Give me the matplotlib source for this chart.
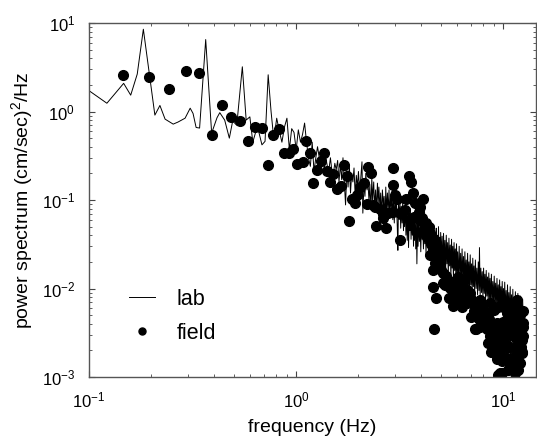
import matplotlib
matplotlib.use("Agg")
import matplotlib.pyplot as plt

# lab spectrum, low-frequency part
lab_freq_low = [
    0.100, 0.122, 0.147, 0.159, 0.171, 0.183, 0.208, 0.220, 0.233, 0.255,
    0.269, 0.291, 0.308, 0.318, 0.329, 0.342, 0.366, 0.391, 0.415, 0.428,
    0.452, 0.476, 0.494, 0.517, 0.550, 0.574, 0.598, 0.618, 0.646, 0.659,
    0.684, 0.708, 0.733, 0.757, 0.781, 0.806, 0.830, 0.854, 0.879, 0.903,
    0.928, 0.952, 0.977, 1.001, 1.025, 1.050, 1.074, 1.099, 1.123, 1.147,
    1.172, 1.196, 1.220, 1.245, 1.269, 1.294, 1.318, 1.343, 1.367, 1.391,
    1.416, 1.440, 1.465, 1.489, 1.514, 1.538, 1.562, 1.587, 1.611, 1.636,
    1.660, 1.684, 1.709, 1.733, 1.758, 1.782, 1.807, 1.831, 1.855, 1.880,
    1.904, 1.929, 1.953, 1.978, 2.00, 2.03, 2.05, 2.08, 2.10, 2.13,
    2.15, 2.17, 2.20, 2.22, 2.25, 2.27, 2.30, 2.32, 2.34, 2.37,
    2.39, 2.42, 2.44, 2.47, 2.49, 2.51, 2.54, 2.56, 2.59, 2.61,
    2.64, 2.66, 2.69, 2.71, 2.73, 2.76, 2.78, 2.81, 2.83, 2.86,
    2.88, 2.90, 2.93, 2.95, 2.98, 3.00, 3.03, 3.05, 3.08, 3.10,
    3.12, 3.15, 3.17, 3.20, 3.22, 3.25, 3.27, 3.30, 3.32, 3.34,
    3.37, 3.39, 3.42, 3.44, 3.47, 3.49, 3.52, 3.54, 3.56, 3.59,
    3.61, 3.64, 3.66, 3.69, 3.71, 3.73, 3.76, 3.78, 3.81, 3.83,
    3.86,
]
lab_psd_low = [
    1.72, 1.24, 2.08, 1.53, 2.65, 8.5, 0.91, 1.17, 0.82, 0.72,
    0.76, 0.84, 1.09, 0.95, 0.66, 0.65, 6.5, 0.57, 0.85, 0.97,
    0.80, 0.50, 0.78, 0.70, 3.2, 0.80, 0.87, 0.45, 0.65, 0.60,
    0.42, 0.46, 2.6, 1.0, 0.48, 0.84, 0.60, 0.45, 0.67, 0.84,
    0.37, 0.64, 0.58, 0.37, 0.62, 0.45, 0.55, 0.74, 0.45, 0.30,
    0.24, 0.45, 0.21, 0.30, 0.40, 0.30, 0.25, 0.33, 0.22, 0.30,
    0.24, 0.22, 0.30, 0.21, 0.20, 0.26, 0.22, 0.28, 0.16, 0.25,
    0.17, 0.30, 0.16, 0.088, 0.22, 0.14, 0.25, 0.12, 0.20, 0.16,
    0.23, 0.11, 0.19, 0.14, 0.21, 0.12, 0.17, 0.27, 0.071, 0.16,
    0.11, 0.20, 0.13, 0.17, 0.095, 0.15, 0.078, 0.18, 0.10, 0.16,
    0.085, 0.13, 0.073, 0.155, 0.09, 0.14, 0.08, 0.12, 0.065, 0.13,
    0.085, 0.11, 0.06, 0.14, 0.075, 0.12, 0.07, 0.13, 0.068, 0.11,
    0.08, 0.125, 0.06, 0.10, 0.055, 0.11, 0.07, 0.10, 0.05, 0.027,
    0.09, 0.06, 0.10, 0.048, 0.085, 0.055, 0.095, 0.045, 0.08, 0.05,
    0.09, 0.04, 0.075, 0.035, 0.085, 0.029, 0.07, 0.045, 0.08, 0.036,
    0.065, 0.04, 0.07, 0.03, 0.06, 0.035, 0.065, 0.028, 0.055, 0.019,
    0.06,
]

# lab spectrum, dense high-frequency band
lab_freq_high = [
    3.88, 3.91, 3.94, 3.97, 4.00, 4.03, 4.06, 4.09, 4.12, 4.15,
    4.18, 4.21, 4.24, 4.27, 4.30, 4.33, 4.36, 4.39, 4.42, 4.45,
    4.48, 4.51, 4.54, 4.57, 4.60, 4.63, 4.66, 4.69, 4.72, 4.75,
    4.78, 4.81, 4.84, 4.87, 4.90, 4.93, 4.96, 4.99, 5.03, 5.07,
    5.11, 5.15, 5.19, 5.23, 5.27, 5.31, 5.35, 5.39, 5.43, 5.47,
    5.51, 5.55, 5.59, 5.63, 5.67, 5.71, 5.75, 5.79, 5.83, 5.87,
    5.91, 5.95, 5.99, 6.03, 6.08, 6.13, 6.18, 6.23, 6.28, 6.33,
    6.38, 6.43, 6.48, 6.53, 6.58, 6.63, 6.68, 6.73, 6.78, 6.83,
    6.88, 6.93, 6.98, 7.03, 7.08, 7.13, 7.18, 7.23, 7.28, 7.34,
    7.40, 7.46, 7.52, 7.58, 7.64, 7.68, 7.74, 7.80, 7.86, 7.92,
    7.98, 8.04, 8.10, 8.16, 8.22, 8.28, 8.34, 8.40, 8.46, 8.52,
    8.58, 8.64, 8.70, 8.77, 8.84, 8.91, 8.98, 9.05, 9.12, 9.19,
    9.26, 9.33, 9.40, 9.47, 9.54, 9.61, 9.68, 9.75, 9.82, 9.89,
    9.96, 10.03, 10.10, 10.17, 10.25, 10.33, 10.41, 10.49, 10.57, 10.65,
    10.73, 10.81, 10.89, 10.97, 11.05, 11.13, 11.21, 11.29, 11.37, 11.45,
    11.53, 11.61, 11.69, 11.77, 11.85, 11.93, 12.01, 12.09, 12.17, 12.25,
    12.33, 12.41, 12.50,
]
lab_psd_high = [
    0.030, 0.058, 0.034, 0.052, 0.026, 0.062, 0.036, 0.050, 0.028, 0.056,
    0.032, 0.047, 0.024, 0.058, 0.033, 0.049, 0.022, 0.053, 0.030, 0.046,
    0.021, 0.050, 0.028, 0.044, 0.020, 0.052, 0.027, 0.041, 0.019, 0.048,
    0.025, 0.040, 0.018, 0.050, 0.023, 0.038, 0.017, 0.043, 0.022, 0.039,
    0.016, 0.042, 0.021, 0.035, 0.015, 0.040, 0.019, 0.033, 0.014, 0.037,
    0.018, 0.031, 0.013, 0.036, 0.017, 0.030, 0.0125, 0.033, 0.016, 0.028,
    0.0125, 0.032, 0.015, 0.026, 0.0115, 0.030, 0.014, 0.025, 0.011, 0.028,
    0.013, 0.023, 0.0105, 0.026, 0.012, 0.021, 0.010, 0.025, 0.0115, 0.020,
    0.0095, 0.024, 0.011, 0.019, 0.0092, 0.022, 0.0105, 0.018, 0.009, 0.021,
    0.010, 0.017, 0.0085, 0.020, 0.0095, 0.029, 0.0085, 0.017, 0.009, 0.0155,
    0.008, 0.017, 0.0088, 0.0145, 0.0075, 0.016, 0.0082, 0.0135, 0.0072, 0.015,
    0.0078, 0.013, 0.0066, 0.0145, 0.0072, 0.012, 0.0063, 0.0138, 0.0068, 0.0115,
    0.006, 0.013, 0.0064, 0.011, 0.0057, 0.0125, 0.0060, 0.0105, 0.0054, 0.012,
    0.0056, 0.010, 0.0050, 0.0118, 0.0052, 0.0095, 0.0046, 0.011, 0.0049, 0.009,
    0.0042, 0.0105, 0.0045, 0.0085, 0.0039, 0.0098, 0.0042, 0.008, 0.0036, 0.0092,
    0.0038, 0.0078, 0.0034, 0.0088, 0.0036, 0.0074, 0.0032, 0.0082, 0.0034, 0.0070,
    0.0031, 0.0076, 0.0045,
]

# field measurements
field_freq = [
    0.146, 0.195, 0.243, 0.293, 0.341, 0.392, 0.439, 0.487, 0.536, 0.584,
    0.634, 0.683, 0.730, 0.777, 0.828, 0.875, 0.928, 0.970, 1.015, 1.077,
    1.118, 1.168, 1.21, 1.267, 1.316, 1.366, 1.407, 1.46, 1.515, 1.573,
    1.645, 1.706, 1.757, 1.803, 1.858, 1.93, 1.97, 2.04, 2.13, 2.19,
    2.23, 2.29, 2.36, 2.41, 2.43, 2.53, 2.63, 2.64, 2.72, 2.79,
    2.93, 2.95, 2.95, 3.01, 3.06, 3.16, 3.18, 3.36, 3.40, 3.49,
    3.58, 3.66, 3.69, 3.76, 3.90, 3.97, 3.97, 4.05, 4.09, 4.20,
    4.28, 4.36, 4.44, 4.48, 4.44, 4.58, 4.60, 4.68, 4.79, 4.58,
    4.74, 4.61, 4.87, 4.96, 5.14, 5.25, 5.44, 5.55, 5.75, 5.75,
    6.08, 6.20, 6.43, 6.43, 6.68, 6.68, 6.93, 6.93, 7.34, 7.34,
    7.40, 7.47, 7.76, 7.76, 8.03, 8.03, 8.34, 8.34, 8.49, 8.65,
    8.65, 8.82, 8.98, 8.98, 9.15, 9.31, 9.32, 9.46, 9.49, 9.46,
    9.67, 9.85, 9.85, 9.85, 10.03, 10.03, 10.4, 10.39, 10.39, 10.39,
    10.78, 10.78, 10.58, 11.0, 11.17, 11.17, 11.2, 11.4, 11.65, 11.7,
    11.7, 11.84, 12.08, 12.1, 12.3, 12.3, 12.3, 12.53, 12.5,
    4.15, 4.25, 4.50, 4.70, 4.90, 5.00, 5.30, 5.60, 5.90, 6.00,
    6.30, 6.50, 6.80, 7.10, 7.20, 7.60, 7.90, 8.20, 8.50, 8.80,
    9.00, 9.20, 9.60, 9.70, 10.2, 10.2, 10.6, 10.9, 11.0, 11.4,
    11.5, 11.9, 12.2, 12.5, 10.5, 11.2, 9.30, 8.70, 12.0, 12.4,
    5.10, 5.50, 5.90, 6.30, 7.00, 7.60,
]
field_psd = [
    2.58, 2.43, 1.81, 2.89, 2.70, 0.54, 1.18, 0.87, 0.79, 0.46,
    0.66, 0.65, 0.247, 0.54, 0.63, 0.34, 0.34, 0.38, 0.255, 0.267,
    0.47, 0.34, 0.157, 0.218, 0.275, 0.342, 0.214, 0.161, 0.197, 0.132,
    0.144, 0.248, 0.187, 0.058, 0.102, 0.093, 0.114, 0.139, 0.155, 0.090,
    0.234, 0.204, 0.088, 0.083, 0.051, 0.080, 0.062, 0.069, 0.048, 0.071,
    0.148, 0.228, 0.073, 0.114, 0.102, 0.035, 0.071, 0.077, 0.102, 0.187,
    0.161, 0.121, 0.064, 0.092, 0.073, 0.084, 0.059, 0.062, 0.102, 0.050,
    0.038, 0.050, 0.042, 0.032, 0.024, 0.026, 0.0162, 0.0194, 0.0193, 0.0103,
    0.0078, 0.0035, 0.027, 0.0194, 0.0148, 0.011, 0.0125, 0.0101, 0.0089, 0.0063,
    0.0136, 0.0105, 0.0115, 0.0125, 0.0096, 0.0068, 0.0088, 0.0080, 0.0063, 0.0035,
    0.0035, 0.0057, 0.0074, 0.0037, 0.0057, 0.0048, 0.0053, 0.0035, 0.0024, 0.0029,
    0.0068, 0.0029, 0.0040, 0.0057, 0.0020, 0.0041, 0.0031, 0.0020, 0.0062, 0.00105,
    0.0011, 0.0015, 0.0024, 0.0011, 0.0017, 0.0042, 0.0021, 0.0031, 0.0053, 0.0057,
    0.0022, 0.00143, 0.0012, 0.0013, 0.0017, 0.0044, 0.0029, 0.0011, 0.0026, 0.00155,
    0.0074, 0.0012, 0.00143, 0.0032, 0.0019, 0.00185, 0.0026, 0.0037, 0.0041,
    0.045, 0.055, 0.035, 0.030, 0.022, 0.016, 0.014, 0.0115, 0.011, 0.0085,
    0.009, 0.0078, 0.0075, 0.0072, 0.0055, 0.0062, 0.0065, 0.0042, 0.0045, 0.0038,
    0.0025, 0.0033, 0.0036, 0.0028, 0.0035, 0.0025, 0.0040, 0.0034, 0.0048, 0.0038,
    0.0021, 0.0031, 0.0022, 0.0029, 0.0016, 0.0014, 0.0016, 0.0019, 0.0050, 0.0055,
    0.0115, 0.0078, 0.0072, 0.0062, 0.0048, 0.0045,
]

plt.rcParams["font.family"] = ["Liberation Sans", "DejaVu Sans"]

fig = plt.figure(figsize=(5.37, 4.38), dpi=100)
ax = fig.add_axes([89 / 537, 1 - 377 / 438, 447 / 537, 354 / 438])

ax.plot(lab_freq_low + lab_freq_high, lab_psd_low + lab_psd_high,
        color="black", linewidth=0.7, label="lab")
ax.plot(field_freq, field_psd, linestyle="none", marker="o", markersize=7.0,
        color="black", label="field")

ax.set_xscale("log")
ax.set_yscale("log")
ax.set_xlim(0.1, 14.4)
ax.set_ylim(1e-3, 1e1)

ax.set_xlabel("frequency (Hz)", fontsize=14, labelpad=6)
ax.set_ylabel(r"power spectrum (cm/sec)$^{\mathdefault{2}}$/Hz", fontsize=14, labelpad=4)

ax.tick_params(which="both", direction="in", top=True, right=True, colors="#444444",
               labelcolor="black", labelsize=12)
ax.tick_params(axis="x", which="major", length=4, pad=10)
ax.tick_params(axis="y", which="major", length=4, pad=10)
ax.tick_params(which="minor", length=2)
for sp in ax.spines.values():
    sp.set_color("#555555")
    sp.set_linewidth(1.0)

ax.legend(loc="upper left", bbox_to_anchor=(129 / 537, 1 - 289 / 438),
          bbox_transform=fig.transFigure, frameon=False, fontsize=15.5,
          handlelength=1.2, handletextpad=1.0, borderpad=0, borderaxespad=0,
          markerscale=0.72, labelspacing=0.6)

fig.savefig("out.png", dpi=100)
